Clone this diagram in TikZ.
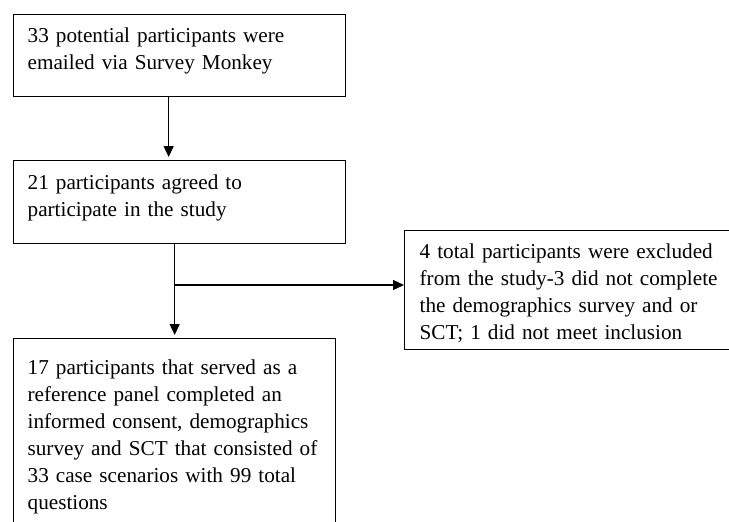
\documentclass[tikz,border=0pt]{standalone}
\usepackage{fontspec}
\setmainfont{Liberation Serif}
\usepackage{tikz}
\usetikzlibrary{arrows.meta}

\begin{document}
\begin{tikzpicture}[x=1pt,y=-1pt,>={Triangle[length=11pt,width=10pt]},line width=1.3pt]
		\tikzstyle{box}=[rectangle, draw=black, anchor=north west, inner sep=0pt]
		\tikzstyle{txt}=[anchor=base west, inner sep=0pt, text width=310pt, align=left, font=\fontsize{21.2}{27}\selectfont]
		\tikzstyle{link}=[->, draw=black]

		\useasboundingbox (0,0) rectangle (729,522);
		\clip (0,0) rectangle (729,522);

		% boxes
		\node [box, minimum width=332pt, minimum height=82pt] (b1) at (13,14) {};
		\node [box, minimum width=332pt, minimum height=83pt] (b2) at (13,160) {};
		\node [box, minimum width=345pt, minimum height=119pt] (b3) at (404,230) {};
		\node [box, minimum width=322pt, minimum height=200pt] (b4) at (13,338) {};

		% texts
		\node [txt] (t1) at ([xshift=14pt,yshift=-28.7pt]b1.north west)
			{33 potential participants were\\emailed via Survey Monkey};
		\node [txt] (t2) at ([xshift=14pt,yshift=-29.5pt]b2.north west)
			{21 participants agreed to\\participate in the study};
		\node [txt] (t3) at ([xshift=15pt,yshift=-28.2pt]b3.north west)
			{4 total participants were excluded\\from the study-3 did not complete\\the demographics survey and or\\SCT; 1 did not meet inclusion};
		\node [txt] (t4) at ([xshift=14pt,yshift=-36pt]b4.north west)
			{17 participants that served as a\\reference panel completed an\\informed consent, demographics\\survey and SCT that consisted of\\33 case scenarios with 99 total\\questions};

		% connectors
		\coordinate (fork) at (b4.north |- 0,285);
		\draw [link, shorten >=3pt] ([xshift=-11pt]b1.south) -- ([xshift=-11pt]b2.north);
		\draw [link, shorten >=3pt] (b4.north |- b2.south) -- (b4.north);
		\draw [link] (fork) -- (fork -| b3.west);
	\end{tikzpicture}
\end{document}
